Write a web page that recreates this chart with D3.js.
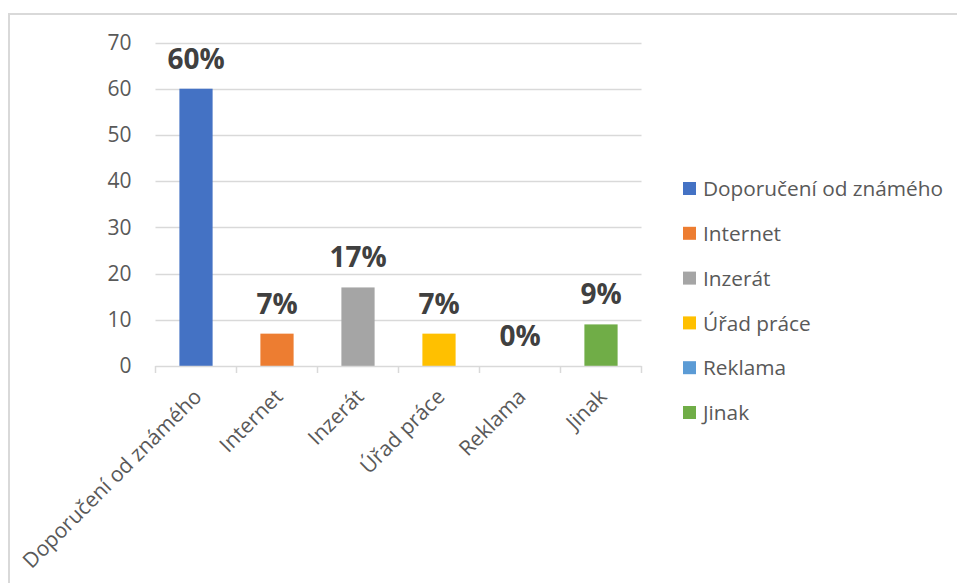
<!DOCTYPE html>
<html>
<head>
<meta charset="utf-8">
<script src="https://cdn.jsdelivr.net/npm/d3@7"></script>
<style>
  html, body { margin: 0; padding: 0; background: #fff; }
  svg { display: block; font-family: "Open Sans", "Noto Sans", sans-serif; }
</style>
</head>
<body>
<svg id="chart" width="957" height="583"></svg>
<script>
// Survey: how respondents found their job
const categories = ["Doporučení od známého", "Internet", "Inzerát", "Úřad práce", "Reklama", "Jinak"];
const values = [60, 7, 17, 7, 0, 9];
const valueLabels = ["60%", "7%", "17%", "7%", "0%", "9%"];
const colors = ["#4472C4", "#ED7D31", "#A5A5A5", "#FFC000", "#5B9BD5", "#70AD47"];
const yTicks = [0, 10, 20, 30, 40, 50, 60, 70];

const svg = d3.select("#chart");

// outer frame of the chart area
svg.append("path")
  .attr("d", "M9,583 V14 H957")
  .attr("fill", "none")
  .attr("stroke", "#d9d9d9")
  .attr("stroke-width", 2);

const plot = { left: 155.5, right: 641.5, top: 42.5, bottom: 366 };

const x = d3.scaleBand()
  .domain(categories)
  .range([plot.left, plot.right])
  .paddingInner(0.59)
  .paddingOuter(0.295);

const y = d3.scaleLinear()
  .domain([0, 70])
  .range([plot.bottom, plot.top]);

// horizontal gridlines
svg.append("g")
  .selectAll("line")
  .data(yTicks.filter(t => t > 0))
  .join("line")
  .attr("x1", plot.left)
  .attr("x2", plot.right)
  .attr("y1", d => Math.round(y(d)) + 0.5)
  .attr("y2", d => Math.round(y(d)) + 0.5)
  .attr("stroke", "#d9d9d9")
  .attr("stroke-width", 1.5);

// y axis labels
const yAxis = d3.axisLeft(y).tickValues(yTicks).tickSize(0).tickPadding(24);
const gy = svg.append("g").attr("transform", `translate(${plot.left},0)`).call(yAxis);
gy.select(".domain").remove();
gy.selectAll("text")
  .attr("fill", "#595959")
  .style("font-size", "21px")
  .style("font-family", "'Open Sans', sans-serif");

// bars
svg.append("g")
  .selectAll("rect")
  .data(values)
  .join("rect")
  .attr("x", (d, i) => x(categories[i]))
  .attr("y", d => y(d))
  .attr("width", x.bandwidth())
  .attr("height", d => y(0) - y(d))
  .attr("fill", (d, i) => colors[i]);

// x axis with category separators
const bandStep = x.step();
const xAxisG = svg.append("g");
xAxisG.append("line")
  .attr("x1", plot.left).attr("x2", plot.right)
  .attr("y1", plot.bottom + 0.5).attr("y2", plot.bottom + 0.5)
  .attr("stroke", "#d9d9d9").attr("stroke-width", 1.5);
xAxisG.selectAll("line.sep")
  .data(d3.range(categories.length + 1))
  .join("line")
  .attr("class", "sep")
  .attr("x1", i => plot.left + i * bandStep)
  .attr("x2", i => plot.left + i * bandStep)
  .attr("y1", plot.bottom)
  .attr("y2", plot.bottom + 7)
  .attr("stroke", "#d9d9d9").attr("stroke-width", 1.5);

// rotated category labels
xAxisG.selectAll("text")
  .data(categories)
  .join("text")
  .attr("transform", d => `translate(${x(d) + x.bandwidth() / 2 + 7},${plot.bottom + 32}) rotate(-45)`)
  .attr("text-anchor", "end")
  .attr("fill", "#595959")
  .style("font-size", "21px")
  .text(d => d);

// value labels above bars
svg.append("g")
  .selectAll("text")
  .data(values)
  .join("text")
  .attr("x", (d, i) => x(categories[i]) + x.bandwidth() / 2)
  .attr("y", d => y(d) - 20)
  .attr("text-anchor", "middle")
  .attr("fill", "#404040")
  .style("font-size", "28px")
  .style("font-weight", "bold")
  .text((d, i) => valueLabels[i]);

// legend
const legend = svg.append("g");
const legendRows = legend.selectAll("g")
  .data(categories)
  .join("g")
  .attr("transform", (d, i) => `translate(683,${189 + i * 44.8})`);
legendRows.append("rect")
  .attr("x", 0).attr("y", -7)
  .attr("width", 13).attr("height", 13)
  .attr("fill", (d, i) => colors[i]);
legendRows.append("text")
  .attr("x", 20).attr("y", 0)
  .attr("dy", "0.35em")
  .attr("fill", "#595959")
  .style("font-size", "20.8px")
  .text(d => d);
</script>
</body>
</html>
